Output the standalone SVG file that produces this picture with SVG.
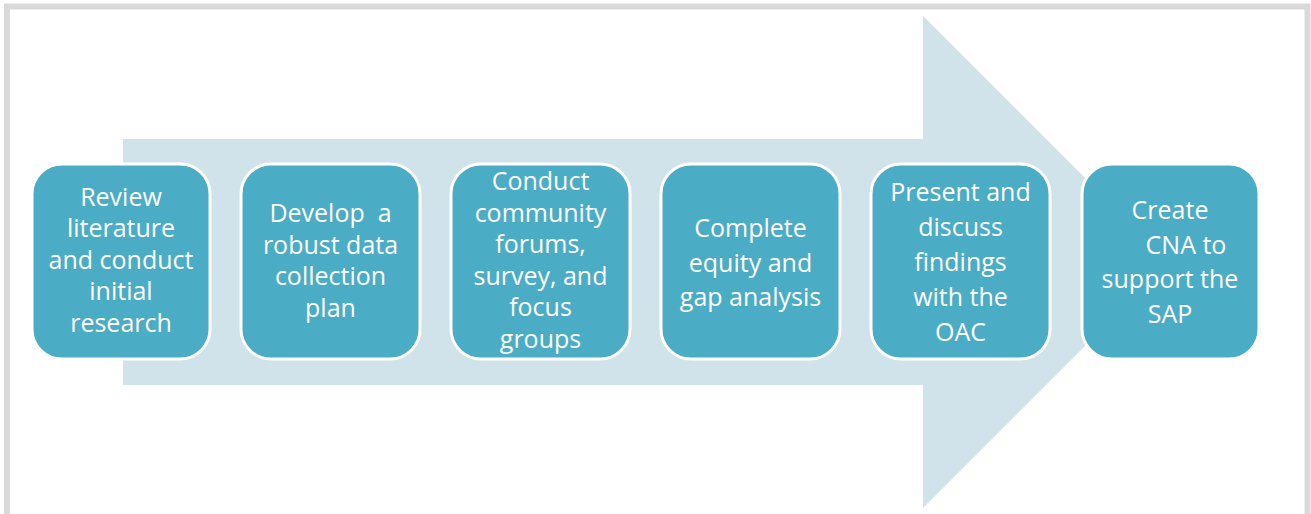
<svg xmlns="http://www.w3.org/2000/svg" width="1311" height="514" viewBox="0 0 1311 514">
<style>
.box{fill:#4bacc6;stroke:#ffffff;stroke-width:3}
.t{font-family:"Open Sans","Liberation Sans",sans-serif;font-size:25px;fill:#ffffff;text-anchor:middle;white-space:pre}
</style>
<rect x="0" y="0" width="1311" height="514" fill="#ffffff"/>
<rect x="7" y="6.5" width="1300.5" height="530" fill="#ffffff" stroke="#d9d9d9" stroke-width="6"/>
<g id="connectors">
<polygon points="123,139 923,139 923,16 1169,262 923,508 923,385 123,385" fill="#d0e3ea"/>
</g>
<g id="n1">
<rect class="box" x="32" y="164" width="178" height="195" rx="30"/>
<text class="t"><tspan x="121" y="205.5">Review</tspan><tspan x="121" y="237">literature</tspan><tspan x="121" y="268.5">and conduct</tspan><tspan x="121" y="300">initial</tspan><tspan x="121" y="331.5">research</tspan></text>
</g>
<g id="n2">
<rect class="box" x="241" y="164" width="179" height="195" rx="30"/>
<text class="t"><tspan x="330.5" y="222">Develop  a</tspan><tspan x="330.5" y="253.5">robust data</tspan><tspan x="330.5" y="285">collection</tspan><tspan x="330.5" y="316.5">plan</tspan></text>
</g>
<g id="n3">
<rect class="box" x="451" y="164" width="179" height="195" rx="30"/>
<text class="t"><tspan x="540.5" y="190">Conduct</tspan><tspan x="540.5" y="221.5">community</tspan><tspan x="540.5" y="253">forums,</tspan><tspan x="540.5" y="284.5">survey, and</tspan><tspan x="540.5" y="316">focus</tspan><tspan x="540.5" y="347.5">groups</tspan></text>
</g>
<g id="n4">
<rect class="box" x="661" y="164" width="179" height="195" rx="30"/>
<text class="t"><tspan x="750.5" y="237">Complete</tspan><tspan x="750.5" y="271.5">equity and</tspan><tspan x="750.5" y="306">gap analysis</tspan></text>
</g>
<g id="n5">
<rect class="box" x="871" y="164" width="179" height="195" rx="30"/>
<text class="t"><tspan x="960.5" y="201">Present and</tspan><tspan x="960.5" y="236">discuss</tspan><tspan x="960.5" y="271">findings</tspan><tspan x="960.5" y="306">with the</tspan><tspan x="960.5" y="341">OAC</tspan></text>
</g>
<g id="n6">
<rect class="box" x="1082" y="164" width="177" height="195" rx="30"/>
<text class="t"><tspan x="1170" y="219">Create</tspan><tspan x="1186" y="253.5">CNA to</tspan><tspan x="1170" y="288">support the</tspan><tspan x="1170" y="323">SAP</tspan></text>
</g>
</svg>
